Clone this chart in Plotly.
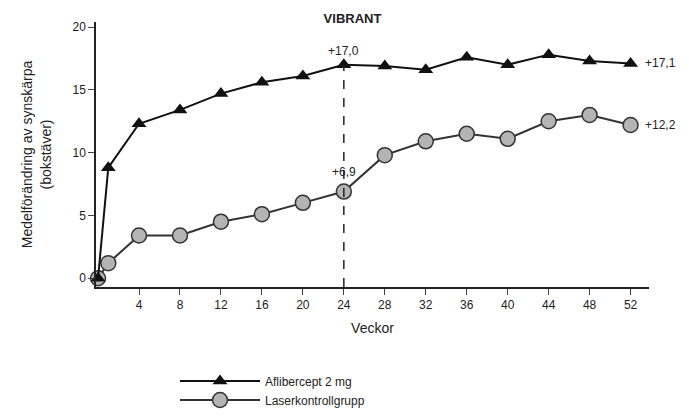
import plotly.graph_objects as go

weeks = [0, 1, 4, 8, 12, 16, 20, 24, 28, 32, 36, 40, 44, 48, 52]
aflibercept = [0, 8.8, 12.3, 13.4, 14.7, 15.6, 16.1, 17.0, 16.9, 16.6, 17.6, 17.0, 17.8, 17.3, 17.1]
laser = [0, 1.2, 3.4, 3.4, 4.5, 5.1, 6.0, 6.9, 9.8, 10.9, 11.5, 11.1, 12.5, 13.0, 12.2]
tick_weeks = [4, 8, 12, 16, 20, 24, 28, 32, 36, 40, 44, 48, 52]

fig = go.Figure()
fig.add_trace(go.Scatter(
    x=weeks, y=laser, name="Laserkontrollgrupp", mode="lines+markers",
    line=dict(color="#333333", width=2),
    marker=dict(symbol="circle", size=15, color="#b4b4b4", line=dict(color="#333333", width=1.5)),
    cliponaxis=False))
fig.add_trace(go.Scatter(
    x=weeks, y=aflibercept, name="Aflibercept 2 mg", mode="lines+markers",
    line=dict(color="#111111", width=2),
    marker=dict(symbol="triangle-up", size=13, color="#111111"),
    cliponaxis=False))

fig.add_shape(type="line", x0=24, x1=24, y0=-0.7, y1=17.0,
              line=dict(color="#222222", width=1.5, dash="dash"))

notes = [(24, 17.0, "+17,0", 0, -14), (24, 6.9, "+6,9", 0, -20),
         (52, 17.1, "+17,1", 30, 0), (52, 12.2, "+12,2", 30, 0)]
for x, y, t, ax, ay in notes:
    fig.add_annotation(x=x, y=y, text=t, showarrow=False, xshift=ax, yshift=-ay,
                       font=dict(size=12, color="#222222"))

fig.update_layout(
    width=689, height=418,
    margin=dict(l=88, r=48, t=14, b=105),
    paper_bgcolor="white", plot_bgcolor="white",
    font=dict(family="Liberation Sans, Arial, sans-serif", size=12, color="#222222"),
    title=dict(text="<b>VIBRANT</b>", x=0.5, xanchor="center", y=0.985, yanchor="top",
               font=dict(size=13)),
    xaxis=dict(range=[-0.2, 53.8], tickvals=tick_weeks, ticks="outside", ticklen=6,
               showline=True, linecolor="#222222", linewidth=1.5, showgrid=False,
               zeroline=False, title=dict(text="Veckor", standoff=12)),
    yaxis=dict(range=[-0.7, 20.4], tickvals=[0, 5, 10, 15, 20], ticks="outside", ticklen=6,
               showline=True, linecolor="#222222", linewidth=1.5, showgrid=False,
               zeroline=False,
               title=dict(text="Medelförändring av synskärpa<br>(bokstäver)", standoff=18)),
    legend=dict(orientation="h", x=0.5, xanchor="center", y=-0.3, yanchor="top",
                traceorder="reversed", itemwidth=80, entrywidth=300, font=dict(size=12)),
)

fig.write_html("out.html")
